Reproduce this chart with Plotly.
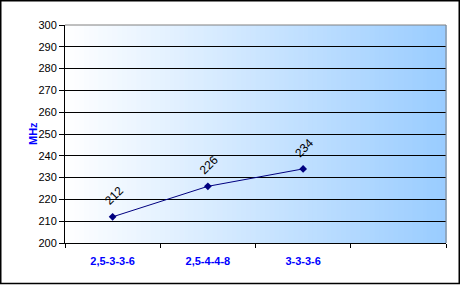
import plotly.graph_objects as go

categories = ["2,5-3-3-6", "2,5-4-4-8", "3-3-3-6"]
all_slots = ["2,5-3-3-6", "2,5-4-4-8", "3-3-3-6", " "]
values = [212, 226, 234]
y_ticks = [200, 210, 220, 230, 240, 250, 260, 270, 280, 290, 300]

W, H = 461, 285
ML, MR, MT, MB = 65, 15, 25, 42
PW, PH = W - ML - MR, H - MT - MB

FONT = "Arial, Liberation Sans, sans-serif"

fig = go.Figure()
fig.add_trace(go.Scatter(
    x=categories, y=values, mode="lines+markers",
    line=dict(color="#000080", width=1),
    marker=dict(symbol="diamond", size=6, color="#000080"),
    hoverinfo="skip", showlegend=False,
))

shapes = []
# horizontal gradient background: white -> light blue
N = 80
c0 = (255, 255, 255)
c1 = (153, 204, 255)
for i in range(N):
    t = (i + 0.5) / N
    col = tuple(round(c0[k] + (c1[k] - c0[k]) * t) for k in range(3))
    shapes.append(dict(type="rect", xref="x domain", yref="y domain",
                       x0=i / N, x1=(i + 1) / N + 0.002, y0=0, y1=1,
                       fillcolor="rgb(%d,%d,%d)" % col, line=dict(width=0),
                       layer="below"))
# gray top and right borders of plot area
shapes.append(dict(type="line", xref="x domain", yref="y domain", x0=0, x1=1, y0=1, y1=1,
                   line=dict(color="#808080", width=1), layer="above"))
shapes.append(dict(type="line", xref="x domain", yref="y domain", x0=1, x1=1, y0=0, y1=1,
                   line=dict(color="#808080", width=1), layer="above"))

# outer chart border (pixel -> paper)
def px(x):
    return (x - ML) / PW

def py(y):
    return (H - MB - y) / PH

shapes.append(dict(type="rect", xref="paper", yref="paper",
                   x0=px(0.75), x1=px(459.25), y0=py(0.75), y1=py(283.5),
                   line=dict(color="black", width=1.5), fillcolor="rgba(0,0,0,0)",
                   layer="above"))

annotations = []
for c, v in zip(categories, values):
    annotations.append(dict(x=c, y=v, xref="x", yref="y", text=str(v),
                            showarrow=False, textangle=-45, yshift=21, xshift=1,
                            font=dict(family=FONT, size=12, color="black")))
annotations.append(dict(x=px(25), y=0.5, xref="paper", yref="paper", text="<b>MHz</b>",
                        showarrow=False, textangle=-90,
                        font=dict(family=FONT, size=11, color="#0000ff")))

fig.update_layout(
    width=W, height=H,
    margin=dict(l=ML, r=MR, t=MT, b=MB),
    paper_bgcolor="white", plot_bgcolor="white",
    shapes=shapes, annotations=annotations,
    xaxis=dict(type="category", categoryorder="array", categoryarray=all_slots,
               range=[-0.5, 3.5], tickson="boundaries", ticks="outside", ticklen=4,
               tickcolor="black", showline=True, linecolor="black", linewidth=1,
               showgrid=False, zeroline=False, ticklabelstandoff=8,
               tickfont=dict(family=FONT, size=11, color="#0000ff", weight="bold")),
    yaxis=dict(range=[200, 300], tickvals=y_ticks, ticks="outside", ticklen=5,
               tickcolor="black", showline=True, linecolor="black", linewidth=1,
               showgrid=True, gridcolor="black", gridwidth=1, zeroline=False,
               tickfont=dict(family=FONT, size=11, color="black")),
)

fig.write_html("out.html")
